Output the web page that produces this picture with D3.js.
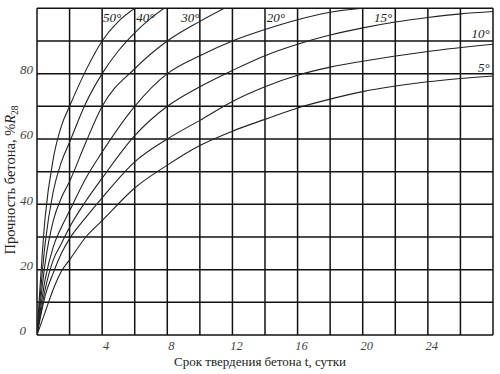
<!DOCTYPE html>
<html>
<head>
<meta charset="utf-8">
<script src="https://cdn.jsdelivr.net/npm/d3@7"></script>
<style>
  body { margin: 0; background: #fff; }
  svg { display: block; }
</style>
</head>
<body>
<div id="chart"></div>
<script>
// curves: % of R28 against curing time (days), one pair of arrays per temperature
const t50 = [0, 0.5, 1, 1.5, 2, 3, 4, 5, 6];
const v50 = [0, 36, 54, 64, 70, 81, 90, 96, 100];
const t40 = [0, 0.5, 1, 1.5, 2, 3, 4, 5, 6, 7, 7.8];
const v40 = [0, 28, 44, 53, 59, 71, 80, 87, 92.5, 97, 100];
const t30 = [0, 0.5, 1, 1.5, 2, 3, 4, 6, 8, 10, 11.5];
const v30 = [0, 22, 35, 42, 47, 59, 70, 81.5, 90, 96, 100];
const t20 = [0, 0.5, 1, 1.5, 2, 3, 4, 6, 8, 10, 12, 14, 16, 18, 20];
const v20 = [0, 17, 27, 33, 38, 48, 56, 70, 80, 85.5, 90, 93.5, 96.5, 98.8, 100];
const t15 = [0, 0.5, 1, 1.5, 2, 3, 4, 6, 8, 10, 12, 14, 16, 18, 20, 22, 24, 26, 28];
const v15 = [0, 14, 23, 28, 33, 41, 48, 61, 70, 76, 81, 85.5, 89, 91.8, 94, 95.8, 97.2, 98.3, 99];
const t10 = [0, 0.5, 1, 1.5, 2, 3, 4, 6, 8, 10, 12, 14, 16, 18, 20, 24, 28];
const v10 = [0, 12, 19, 25, 29.5, 36, 42, 53, 60, 65.7, 71.5, 76, 79.5, 82, 83.8, 86.8, 89];
const t05 = [0, 0.5, 1, 1.5, 2, 3, 4, 6, 8, 10, 12, 14, 16, 18, 20, 24, 28];
const v05 = [0, 7, 14, 19.5, 23, 30, 35, 45, 52, 58, 62.4, 66, 69.5, 72.2, 74.5, 77.5, 79.3];

const temps = ["50°", "40°", "30°", "20°", "15°", "10°", "5°"];
const xTicks = [4, 8, 12, 16, 20, 24];
const yTicks = [0, 20, 40, 60, 80];

// where each curve label sits (days, %)
const labelSpots = [[4.05, 95.7], [6.1, 95.7], [8.85, 95.7], [14.1, 95.7], [20.7, 95.7], [27.8, 90.8], [27.8, 80.4]];

const series = [[t50, v50], [t40, v40], [t30, v30], [t20, v20], [t15, v15], [t10, v10], [t05, v05]];

const width = 500, height = 374;
const mLeft = 37, mRight = 493, mTop = 8.3, mBottom = 335;

const svg = d3.select("#chart")
    .append("svg")
    .attr("width", width)
    .attr("height", height);

const x = d3.scaleLinear().domain([0, 28]).range([mLeft, mRight]);
const y = d3.scaleLinear().domain([0, 100]).range([mBottom, mTop]);

// grid, every 2 days and every 10 %
svg.append("g")
    .selectAll("line")
    .data(d3.range(0, 29, 2))
    .enter()
    .append("line")
    .attr("x1", d => x(d)).attr("x2", d => x(d))
    .attr("y1", y(0)).attr("y2", y(100))
    .attr("stroke", "#111")
    .attr("stroke-width", 1.5);

svg.append("g")
    .selectAll("line")
    .data(d3.range(0, 101, 10))
    .enter()
    .append("line")
    .attr("x1", x(0)).attr("x2", x(28))
    .attr("y1", d => y(d)).attr("y2", d => y(d))
    .attr("stroke", "#111")
    .attr("stroke-width", 1.5);

svg.append("clipPath")
    .attr("id", "plot")
    .append("rect")
    .attr("x", mLeft).attr("y", mTop)
    .attr("width", mRight - mLeft).attr("height", mBottom - mTop);

const line = d3.line()
    .x(d => x(d[0]))
    .y(d => y(d[1]))
    .curve(d3.curveMonotoneX);

svg.append("g")
    .attr("clip-path", "url(#plot)")
    .selectAll("path")
    .data(series)
    .enter()
    .append("path")
    .attr("d", s => line(s[0].map((t, i) => [t, s[1][i]])))
    .attr("fill", "none")
    .attr("stroke", "#222")
    .attr("stroke-width", 1.1);

// curve labels
svg.append("g")
    .selectAll("text")
    .data(temps)
    .enter()
    .append("text")
    .attr("x", (d, i) => x(labelSpots[i][0]))
    .attr("y", (d, i) => y(labelSpots[i][1]))
    .attr("text-anchor", (d, i) => i >= 5 ? "end" : "start")
    .attr("font-family", "Liberation Serif, serif")
    .attr("font-style", "italic")
    .attr("font-size", 13)
    .attr("fill", "#222")
    .text(d => d);

// tick labels
svg.append("g")
    .selectAll("text")
    .data(xTicks)
    .enter()
    .append("text")
    .attr("x", d => x(d) + 4)
    .attr("y", 350)
    .attr("text-anchor", "middle")
    .attr("font-family", "Liberation Serif, serif")
    .attr("font-style", "italic")
    .attr("font-size", 12.5)
    .attr("fill", "#444")
    .text(d => d);

svg.append("g")
    .selectAll("text")
    .data(yTicks)
    .enter()
    .append("text")
    .attr("x", d => d == 0 ? 26 : 33)
    .attr("y", d => y(d) + (d == 0 ? 0 : 0.5))
    .attr("text-anchor", "end")
    .attr("font-family", "Liberation Serif, serif")
    .attr("font-style", "italic")
    .attr("font-size", 13)
    .attr("fill", "#444")
    .text(d => d);

// axis titles
svg.append("text")
    .attr("x", 260)
    .attr("y", 366)
    .attr("text-anchor", "middle")
    .attr("font-family", "Liberation Serif, serif")
    .attr("font-size", 13)
    .attr("fill", "#222")
    .text("Срок твердения бетона t, сутки");

const yTitle = svg.append("text")
    .attr("transform", "translate(15,180) rotate(-90)")
    .attr("text-anchor", "middle")
    .attr("font-family", "Liberation Serif, serif")
    .attr("font-size", 14.5)
    .attr("fill", "#222");
yTitle.append("tspan").text("Прочность бетона, %");
yTitle.append("tspan").attr("font-style", "italic").text("R");
yTitle.append("tspan").attr("font-size", 9.5).attr("dy", 3).text("28");
</script>
</body>
</html>
